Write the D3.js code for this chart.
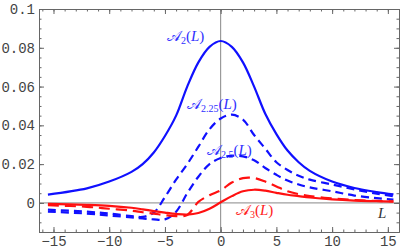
<!DOCTYPE html>
<html>
<head>
<meta charset="utf-8">
<script src="https://cdn.jsdelivr.net/npm/d3@7"></script>
<style>
  body { margin: 0; background: #fff; }
  text { font-family: "Liberation Mono", monospace; }
</style>
</head>
<body>
<script>
// window size
var width = 405,
    height = 251;

// curve data
var L = [-15.5, -12, -10, -8, -7, -6, -5, -4, -3, -2, -1, 0, 1, 2, 3, 4, 5, 6, 7, 8, 10, 12, 14, 15.5];

var a2   = [0.0043, 0.0075, 0.011, 0.016, 0.020, 0.026, 0.0345, 0.045, 0.060, 0.0725, 0.0805, 0.0835, 0.0805, 0.0725, 0.060, 0.046, 0.0355, 0.027, 0.021, 0.0165, 0.011, 0.0077, 0.0056, 0.0044];
var a225 = [-0.0035, -0.0045, -0.0055, -0.0068, -0.0072, -0.005, 0.003, 0.012, 0.020, 0.029, 0.038, 0.0435, 0.0455, 0.043, 0.035, 0.028, 0.021, 0.017, 0.014, 0.012, 0.0095, 0.007, 0.0048, 0.0035];
var a25  = [-0.0045, -0.0055, -0.0065, -0.0075, -0.008, -0.0085, -0.0085, -0.0045, 0.005, 0.0135, 0.020, 0.0232, 0.0243, 0.024, 0.022, 0.018, 0.0145, 0.0115, 0.0095, 0.008, 0.006, 0.0038, 0.0025, 0.0017];
var a275 = [-0.0012, -0.002, -0.003, -0.004, -0.0048, -0.0055, -0.0063, -0.0068, -0.0062, 0.0005, 0.004, 0.0065, 0.0105, 0.0128, 0.0128, 0.011, 0.0085, 0.006, 0.0045, 0.0035, 0.0023, 0.0015, 0.001, 0.0008];
var a3   = [-0.0005, -0.001, -0.0015, -0.0025, -0.0033, -0.0042, -0.005, -0.0057, -0.006, -0.0052, -0.003, 0.0003, 0.0035, 0.006, 0.0068, 0.0063, 0.0052, 0.0042, 0.0035, 0.0028, 0.0018, 0.0012, 0.0009, 0.0007];

var xTicks = [-15, -10, -5, 0, 5, 10, 15];
var yTicks = [0, 0.02, 0.04, 0.06, 0.08, 0.1];
var yTickLabels = ["0", "0.02", "0.04", "0.06", "0.08", "0.1"];

var svg = d3.select("body")
    .append("svg")
    .attr("width", width)
    .attr("height", height);

// scales
var x = d3.scaleLinear().domain([-16.3, 16.0]).range([39, 399]);
var y = d3.scaleLinear().domain([-0.015, 0.1]).range([232, 9]);

// zero axes
svg.append("line")
    .attr("x1", x.range()[0]).attr("x2", x.range()[1])
    .attr("y1", y(0)).attr("y2", y(0))
    .attr("stroke", "#888").attr("stroke-width", 1);
svg.append("line")
    .attr("x1", x(0)).attr("x2", x(0))
    .attr("y1", y.range()[0]).attr("y2", y.range()[1])
    .attr("stroke", "#888").attr("stroke-width", 1);

var minorX = d3.range(-16, 17, 1);
var minorY = d3.range(-0.015, 0.1001, 0.005);

function styleAxis(g) {
    g.select(".domain").attr("stroke", "#666");
    g.selectAll(".tick line").attr("stroke", "#666");
    g.selectAll("text").attr("fill", "#444").style("font-size", "14px");
}

// bottom
svg.append("g").attr("transform", "translate(0," + y.range()[0] + ")")
    .call(d3.axisBottom(x).tickValues(minorX).tickSize(-2.5).tickFormat(""))
    .call(styleAxis);
svg.append("g").attr("transform", "translate(0," + y.range()[0] + ")")
    .call(d3.axisBottom(x).tickValues(xTicks).tickSizeInner(-5).tickSizeOuter(0).tickPadding(4).tickFormat(d3.format("d")))
    .call(styleAxis)
    .call(function(g){ g.select(".domain").remove(); });
// top
svg.append("g").attr("transform", "translate(0," + y.range()[1] + ")")
    .call(d3.axisTop(x).tickValues(minorX).tickSize(-2.5).tickFormat(""))
    .call(styleAxis);
svg.append("g").attr("transform", "translate(0," + y.range()[1] + ")")
    .call(d3.axisTop(x).tickValues(xTicks).tickSizeInner(-5).tickSizeOuter(0).tickFormat(""))
    .call(styleAxis)
    .call(function(g){ g.select(".domain").remove(); });
// left
svg.append("g").attr("transform", "translate(" + x.range()[0] + ",0)")
    .call(d3.axisLeft(y).tickValues(minorY).tickSize(-2.5).tickFormat(""))
    .call(styleAxis);
svg.append("g").attr("transform", "translate(" + x.range()[0] + ",0)")
    .call(d3.axisLeft(y).tickValues(yTicks).tickSizeInner(-5).tickSizeOuter(0).tickPadding(4)
        .tickFormat(function(d, i){ return yTickLabels[i]; }))
    .call(styleAxis)
    .call(function(g){ g.select(".domain").remove(); });
// right
svg.append("g").attr("transform", "translate(" + x.range()[1] + ",0)")
    .call(d3.axisRight(y).tickValues(minorY).tickSize(-2.5).tickFormat(""))
    .call(styleAxis);
svg.append("g").attr("transform", "translate(" + x.range()[1] + ",0)")
    .call(d3.axisRight(y).tickValues(yTicks).tickSizeInner(-5).tickSizeOuter(0).tickFormat(""))
    .call(styleAxis)
    .call(function(g){ g.select(".domain").remove(); });

// curves
var line = d3.line()
    .x(function(d){ return x(d[0]); })
    .y(function(d){ return y(d[1]); })
    .curve(d3.curveCatmullRom.alpha(0.5));

var series = [
    { values: a2,   color: "#1010ff", dash: null },
    { values: a225, color: "#1010ff", dash: "8,5" },
    { values: a25,  color: "#1010ff", dash: "8,5" },
    { values: a275, color: "#ff1010", dash: "11,6" },
    { values: a3,   color: "#ff1010", dash: null }
];

svg.append("g").selectAll("path")
    .data(series)
    .enter()
    .append("path")
    .attr("d", function(s){ return line(L.map(function(l, i){ return [l, s.values[i]]; })); })
    .attr("fill", "none")
    .attr("stroke", function(s){ return s.color; })
    .attr("stroke-width", 2.2)
    .attr("stroke-dasharray", function(s){ return s.dash; });

// curve labels
var labels = [
    { sub: "2",    x: 167, y: 41,  color: "#3030ff" },
    { sub: "2.25", x: 187, y: 109, color: "#3030ff" },
    { sub: "2.5",  x: 207, y: 155, color: "#3030ff" },
    { sub: "3",    x: 236, y: 215, color: "#ff2020" }
];

labels.forEach(function(d){
    var t = svg.append("text")
        .attr("x", d.x).attr("y", d.y)
        .attr("fill", d.color)
        .style("font-family", "'Liberation Serif', serif")
        .style("font-size", "15px");
    t.append("tspan").text("𝒜");
    t.append("tspan").attr("dy", 3).style("font-size", "10px").text(d.sub);
    t.append("tspan").attr("dy", -3).text("(");
    t.append("tspan").style("font-style", "italic").text("L");
    t.append("tspan").text(")");
});

svg.append("text")
    .attr("x", 378).attr("y", 218)
    .style("font-family", "'Liberation Serif', serif")
    .style("font-style", "italic")
    .style("font-size", "15px")
    .attr("fill", "#333")
    .text("L");
</script>
</body>
</html>
